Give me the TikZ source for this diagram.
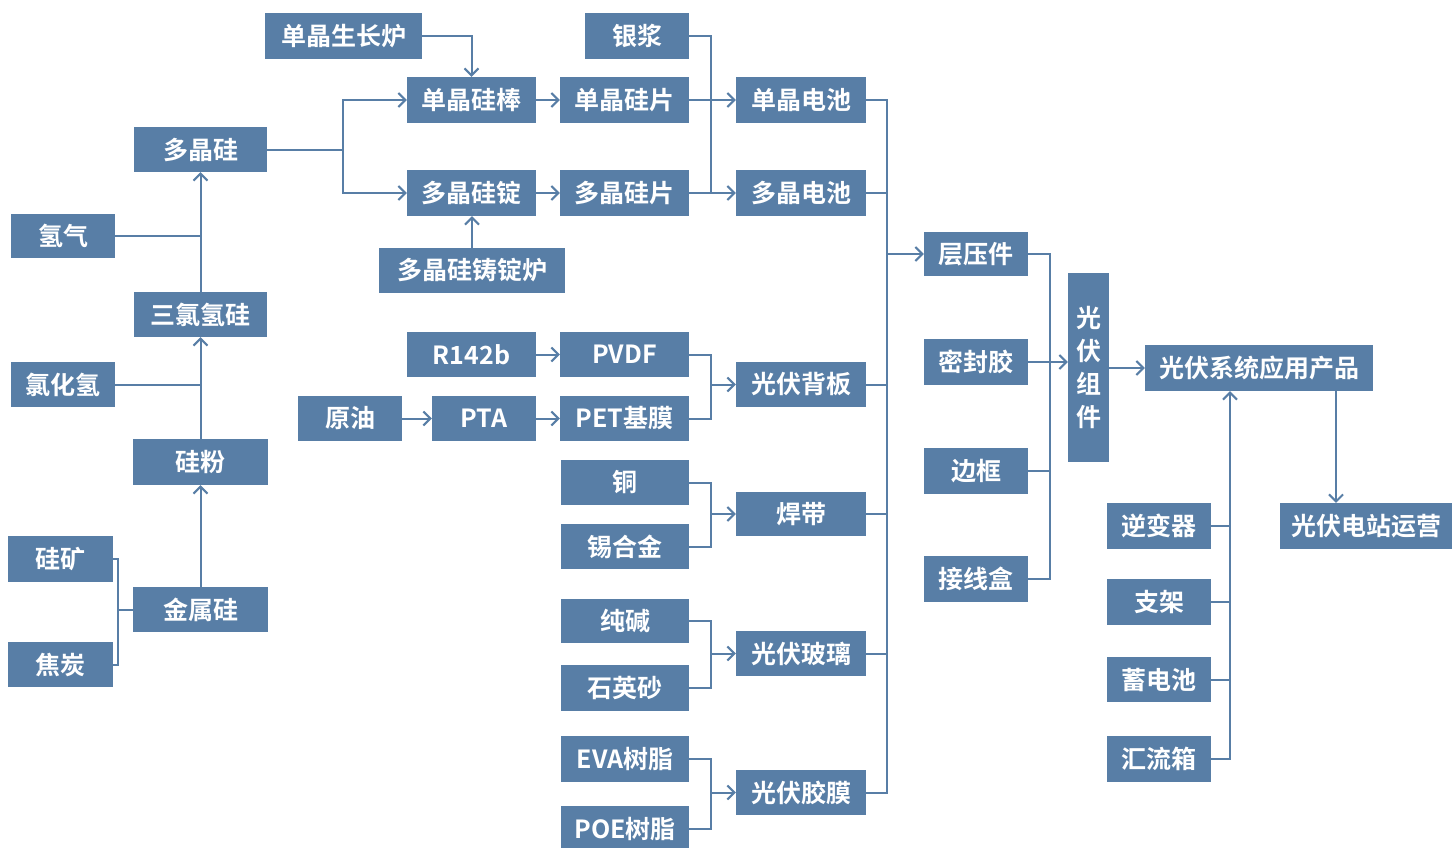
\documentclass[tikz,border=0pt]{standalone}
\usepackage{fontspec}
\newfontfamily\cjk{Noto Sans CJK SC Bold}
\usetikzlibrary{arrows.meta}
\definecolor{boxc}{RGB}{88,126,166}
\begin{document}
\begin{tikzpicture}[x=1pt,y=-1pt,
  box/.style={fill=boxc, text=white, inner sep=0pt, minimum height=46pt, font=\cjk\fontsize{25}{33}\selectfont},
  line/.style={draw=boxc, line width=2pt},
  arr/.style={line, -{Straight Barb[length=7pt,width=14pt]}}]
\useasboundingbox[fill=white] (0,0) rectangle (1455,847);
% left chain
\node[box, minimum width=133pt, minimum height=45pt] (djg) at (200.5,149.5) {多晶硅};
\node[box, minimum width=104pt, minimum height=44pt] (qq) at (63,236) {氢气};
\node[box, minimum width=133pt, minimum height=45pt] (slqg) at (200.5,314.5) {三氯氢硅};
\node[box, minimum width=104pt, minimum height=45pt] (lhq) at (63,384.5) {氯化氢};
\node[box, minimum width=135pt] (gf) at (200.5,462) {硅粉};
\node[box, minimum width=105pt] (gk) at (60.5,559) {硅矿};
\node[box, minimum width=105pt, minimum height=45pt] (jt) at (60.5,664.5) {焦炭};
\node[box, minimum width=135pt, minimum height=45pt] (jsg) at (200.5,609.5) {金属硅};
% silicon wafers
\node[box, minimum width=157pt] (sjszl) at (343.5,36) {单晶生长炉};
\node[box, minimum width=129pt] (sjgb) at (471.5,100) {单晶硅棒};
\node[box, minimum width=129pt] (djgd) at (471.5,193) {多晶硅锭};
\node[box, minimum width=186pt, minimum height=45pt] (zdl) at (472,270.5) {多晶硅铸锭炉};
\node[box, minimum width=104pt] (yj) at (637,36) {银浆};
\node[box, minimum width=129pt] (sjgp) at (624.5,100) {单晶硅片};
\node[box, minimum width=129pt] (djgp) at (624.5,193) {多晶硅片};
\node[box, minimum width=130pt] (sjdc) at (801,100) {单晶电池};
\node[box, minimum width=130pt] (djdc) at (801,193) {多晶电池};
% backsheet
\node[box, minimum width=129pt, minimum height=45pt] (r142b) at (471.5,354.5) {R142b};
\node[box, minimum width=129pt, minimum height=45pt] (pvdf) at (624.5,354.5) {PVDF};
\node[box, minimum width=104pt, minimum height=45pt] (yy) at (350,418.5) {原油};
\node[box, minimum width=104pt, minimum height=45pt] (pta) at (484,418.5) {PTA};
\node[box, minimum width=129pt, minimum height=45pt] (pet) at (624.5,418.5) {PET基膜};
\node[box, minimum width=130pt, minimum height=45pt] (bb) at (801,384.5) {光伏背板};
% ribbon, glass, film
\node[box, minimum width=128pt, minimum height=45pt] (tong) at (625,482.5) {铜};
\node[box, minimum width=128pt, minimum height=45pt] (xhj) at (625,546.5) {锡合金};
\node[box, minimum width=130pt, minimum height=44pt] (hd) at (801,514) {焊带};
\node[box, minimum width=128pt, minimum height=44pt] (cj) at (625,621) {纯碱};
\node[box, minimum width=128pt] (sys) at (625,688) {石英砂};
\node[box, minimum width=130pt, minimum height=45pt] (bl) at (801,653.5) {光伏玻璃};
\node[box, minimum width=128pt] (eva) at (625,759) {EVA树脂};
\node[box, minimum width=128pt] (poe) at (625,829) {POE树脂};
\node[box, minimum width=130pt, minimum height=45pt] (jm) at (801,792.5) {光伏胶膜};
% module
\node[box, minimum width=104pt, minimum height=44pt] (cyj) at (976,254) {层压件};
\node[box, minimum width=104pt] (mfj) at (976,362) {密封胶};
\node[box, minimum width=104pt] (bk) at (976,471) {边框};
\node[box, minimum width=104pt] (jxh) at (976,579) {接线盒};
\node[box, minimum width=41pt, minimum height=189pt, align=center] (zj) at (1088.5,367.5) {光\\伏\\组\\件};
\node[box, minimum width=228pt] (xtcp) at (1259,368) {光伏系统应用产品};
\node[box, minimum width=172pt] (dzyy) at (1366,526) {光伏电站运营};
\node[box, minimum width=104pt] (nbq) at (1159,526) {逆变器};
\node[box, minimum width=104pt] (zjia) at (1159,602) {支架};
\node[box, minimum width=104pt, minimum height=45pt] (xdc) at (1159,679.5) {蓄电池};
\node[box, minimum width=104pt] (hlx) at (1159,759) {汇流箱};
% bus coordinates
\coordinate (lx) at (118,0);
\coordinate (mx) at (711,0);
\coordinate (busx) at (887,0);
\coordinate (bx2) at (1050,0);
\coordinate (bx3) at (1230,0);
% left connectors
\draw[line] (gk.east) -| (lx |- jt.east) -- (jt.east);
\draw[line] (jsg.west) -- (jsg.west -| lx);
\draw[arr] (jsg.north) -- (gf.south);
\draw[arr] (gf.north) -- (slqg.south);
\draw[line] (lhq.east) -- (lhq.east -| gf.north);
\draw[arr] (slqg.north) -- (djg.south);
\draw[line] (qq.east) -- (qq.east -| slqg.north);
\draw[arr] (djg.east) -- ++(76,0) |- (sjgb.west);
\draw[arr] (djg.east) -- ++(76,0) |- (djgd.west);
\draw[arr] (sjszl.east) -| (sjgb.north);
\draw[arr] (zdl.north) -- (zdl.north |- djgd.south);
\draw[arr] (sjgb.east) -- (sjgp.west);
\draw[arr] (djgd.east) -- (djgp.west);
\draw[line] (yj.east) -- (yj.east -| mx) -- (mx |- djdc.west);
\draw[arr] (sjgp.east) -- (sjdc.west);
\draw[arr] (djgp.east) -- (djdc.west);
% backsheet connectors
\draw[arr] (r142b.east) -- (pvdf.west);
\draw[arr] (yy.east) -- (pta.west);
\draw[arr] (pta.east) -- (pet.west);
\draw[line] (pvdf.east) -- (pvdf.east -| mx) |- (pet.east);
\draw[arr] (bb.west -| mx) -- (bb.west);
\draw[line] (tong.east) -- (tong.east -| mx) |- (xhj.east);
\draw[arr] (hd.west -| mx) -- (hd.west);
\draw[line] (cj.east) -- (cj.east -| mx) |- (sys.east);
\draw[arr] (bl.west -| mx) -- (bl.west);
\draw[line] (eva.east) -- (eva.east -| mx) |- (poe.east);
\draw[arr] (jm.west -| mx) -- (jm.west);
% main bus
\draw[line] (sjdc.east) -- (sjdc.east -| busx) |- (jm.east);
\draw[line] (djdc.east) -- (djdc.east -| busx);
\draw[line] (bb.east) -- (bb.east -| busx);
\draw[line] (hd.east) -- (hd.east -| busx);
\draw[line] (bl.east) -- (bl.east -| busx);
\draw[arr] (cyj.west -| busx) -- (cyj.west);
% module bus
\draw[line] (cyj.east) -- (cyj.east -| bx2) |- (jxh.east);
\draw[line] (bk.east) -- (bk.east -| bx2);
\draw[arr] (mfj.east) -- (zj.west |- mfj.east);
\draw[arr] (zj.east |- xtcp.west) -- (xtcp.west);
\draw[arr] ([xshift=77pt]xtcp.south) -- ([xshift=77pt]xtcp.south |- dzyy.north);
\draw[arr] (hlx.east) -| (bx3 |- xtcp.south);
\draw[line] (nbq.east) -- (nbq.east -| bx3);
\draw[line] (zjia.east) -- (zjia.east -| bx3);
\draw[line] (xdc.east) -- (xdc.east -| bx3);
\end{tikzpicture}
\end{document}
